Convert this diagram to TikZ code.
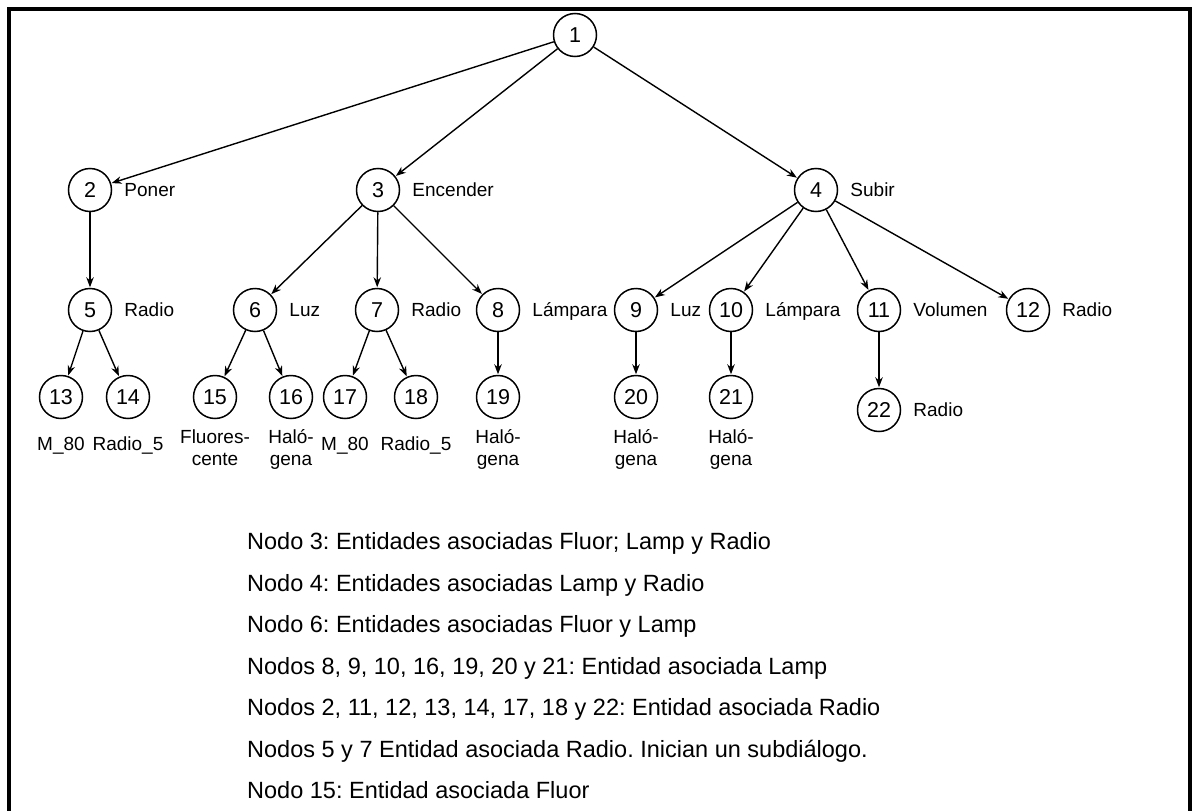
\documentclass[tikz,border=0pt]{standalone}
\usepackage{fontspec}
\setmainfont{Liberation Sans}
\usetikzlibrary{arrows.meta}
\frenchspacing

\begin{document}
\begin{tikzpicture}[x=1pt,y=-1pt,
  num/.style={circle, draw, line width=1.5pt, minimum size=43pt, inner sep=0pt,
              font=\fontsize{21.5}{21.5}\selectfont},
  lbl/.style={anchor=base west, inner sep=0pt, font=\fontsize{19}{19}\selectfont},
  sublbl/.style={anchor=base, inner sep=0pt, font=\fontsize{19}{19}\selectfont},
  link/.style={-{Stealth[length=10pt,width=7.5pt]}, line width=1.4pt, shorten >=0.5pt},
  noteline/.style={anchor=base west, inner sep=0pt, font=\fontsize{23.5}{23.5}\selectfont}]

% page area and open-bottom frame
\fill[white] (0,0) rectangle (1194,811);
\useasboundingbox (0,0) rectangle (1194,811);
\draw[line width=4pt] (9,811) -- (9,9) -- (1190,9) -- (1190,811);

% tree nodes
\node[num] (n1)  at (575,35)  {1};
\node[num] (n2)  at (90,190)  {2};
\node[num] (n3)  at (378,190) {3};
\node[num] (n4)  at (816,190) {4};
\node[num] (n5)  at (90,310)  {5};
\node[num] (n6)  at (255,310) {6};
\node[num] (n7)  at (377,310) {7};
\node[num] (n8)  at (498,310) {8};
\node[num] (n9)  at (636,310) {9};
\node[num] (n10) at (731,310) {10};
\node[num] (n11) at (879,310) {11};
\node[num] (n12) at (1028,310) {12};
\node[num] (n13) at (61,397)  {13};
\node[num] (n14) at (128,397) {14};
\node[num] (n15) at (215,397) {15};
\node[num] (n16) at (291,397) {16};
\node[num] (n17) at (345,397) {17};
\node[num] (n18) at (416,397) {18};
\node[num] (n19) at (498,397) {19};
\node[num] (n20) at (636,397) {20};
\node[num] (n21) at (731,397) {21};
\node[num] (n22) at (879,410) {22};

% labels to the right of nodes
\node[lbl] (l2)  at ([xshift=12pt,yshift=-6.8pt]n2.east)  {Poner};
\node[lbl] (l3)  at ([xshift=12pt,yshift=-6.8pt]n3.east)  {Encender};
\node[lbl] (l4)  at ([xshift=12pt,yshift=-6.8pt]n4.east)  {Subir};
\node[lbl] (l5)  at ([xshift=12pt,yshift=-6.8pt]n5.east)  {Radio};
\node[lbl] (l6)  at ([xshift=12pt,yshift=-6.8pt]n6.east)  {Luz};
\node[lbl] (l7)  at ([xshift=12pt,yshift=-6.8pt]n7.east)  {Radio};
\node[lbl] (l8)  at ([xshift=12pt,yshift=-6.8pt]n8.east)  {Lámpara};
\node[lbl] (l9)  at ([xshift=12pt,yshift=-6.8pt]n9.east)  {Luz};
\node[lbl] (l10) at ([xshift=12pt,yshift=-6.8pt]n10.east) {Lámpara};
\node[lbl] (l11) at ([xshift=12pt,yshift=-6.8pt]n11.east) {Volumen};
\node[lbl] (l12) at ([xshift=12pt,yshift=-6.8pt]n12.east) {Radio};
\node[lbl] (l22) at ([xshift=12pt,yshift=-6.8pt]n22.east) {Radio};

% labels below the leaves
\node[sublbl] (l13)  at (n13 |- 0,450) {M\_80};
\node[sublbl] (l14)  at (n14 |- 0,450) {Radio\_5};
\node[sublbl] (l15a) at (n15 |- 0,443) {Fluores-};
\node[sublbl] (l15b) at (n15 |- 0,465) {cente};
\node[sublbl] (l16a) at (n16 |- 0,443) {Haló-};
\node[sublbl] (l16b) at (n16 |- 0,465) {gena};
\node[sublbl] (l17)  at (n17 |- 0,450) {M\_80};
\node[sublbl] (l18)  at (n18 |- 0,450) {Radio\_5};
\node[sublbl] (l19a) at (n19 |- 0,443) {Haló-};
\node[sublbl] (l19b) at (n19 |- 0,465) {gena};
\node[sublbl] (l20a) at (n20 |- 0,443) {Haló-};
\node[sublbl] (l20b) at (n20 |- 0,465) {gena};
\node[sublbl] (l21a) at (n21 |- 0,443) {Haló-};
\node[sublbl] (l21b) at (n21 |- 0,465) {gena};

% connectors
\draw[link] (n1) -- (n2);
\draw[link] (n1) -- (n3);
\draw[link] (n1) -- (n4);
\draw[link] (n2) -- (n5);
\draw[link] (n3) -- (n6);
\draw[link] (n3) -- (n7);
\draw[link] (n3) -- (n8);
\draw[link] (n4) -- (n9);
\draw[link] (n4) -- (n10);
\draw[link] (n4) -- (n11);
\draw[link] (n4) -- (n12);
\draw[link] (n5) -- (n13);
\draw[link] (n5) -- (n14);
\draw[link] (n6) -- (n15);
\draw[link] (n6) -- (n16);
\draw[link] (n7) -- (n17);
\draw[link] (n7) -- (n18);
\draw[link] (n8) -- (n19);
\draw[link] (n9) -- (n20);
\draw[link] (n10) -- (n21);
\draw[link] (n11) -- (n22);

% legend lines
\node[noteline] (t1) at (247,549.5) {Nodo 3: Entidades asociadas Fluor; Lamp y Radio};
\node[noteline] (t2) at (247,591)   {Nodo 4: Entidades asociadas Lamp y Radio};
\node[noteline] (t3) at (247,632.5) {Nodo 6: Entidades asociadas Fluor y Lamp};
\node[noteline] (t4) at (247,674)   {Nodos 8, 9, 10, 16, 19, 20 y 21: Entidad asociada Lamp};
\node[noteline] (t5) at (247,715.5) {Nodos 2, 11, 12, 13, 14, 17, 18 y 22: Entidad asociada Radio};
\node[noteline] (t6) at (247,757)   {Nodos 5 y 7 Entidad asociada Radio. Inician un subdiálogo.};
\node[noteline] (t7) at (247,798.5) {Nodo 15: Entidad asociada Fluor};
\end{tikzpicture}
\end{document}
